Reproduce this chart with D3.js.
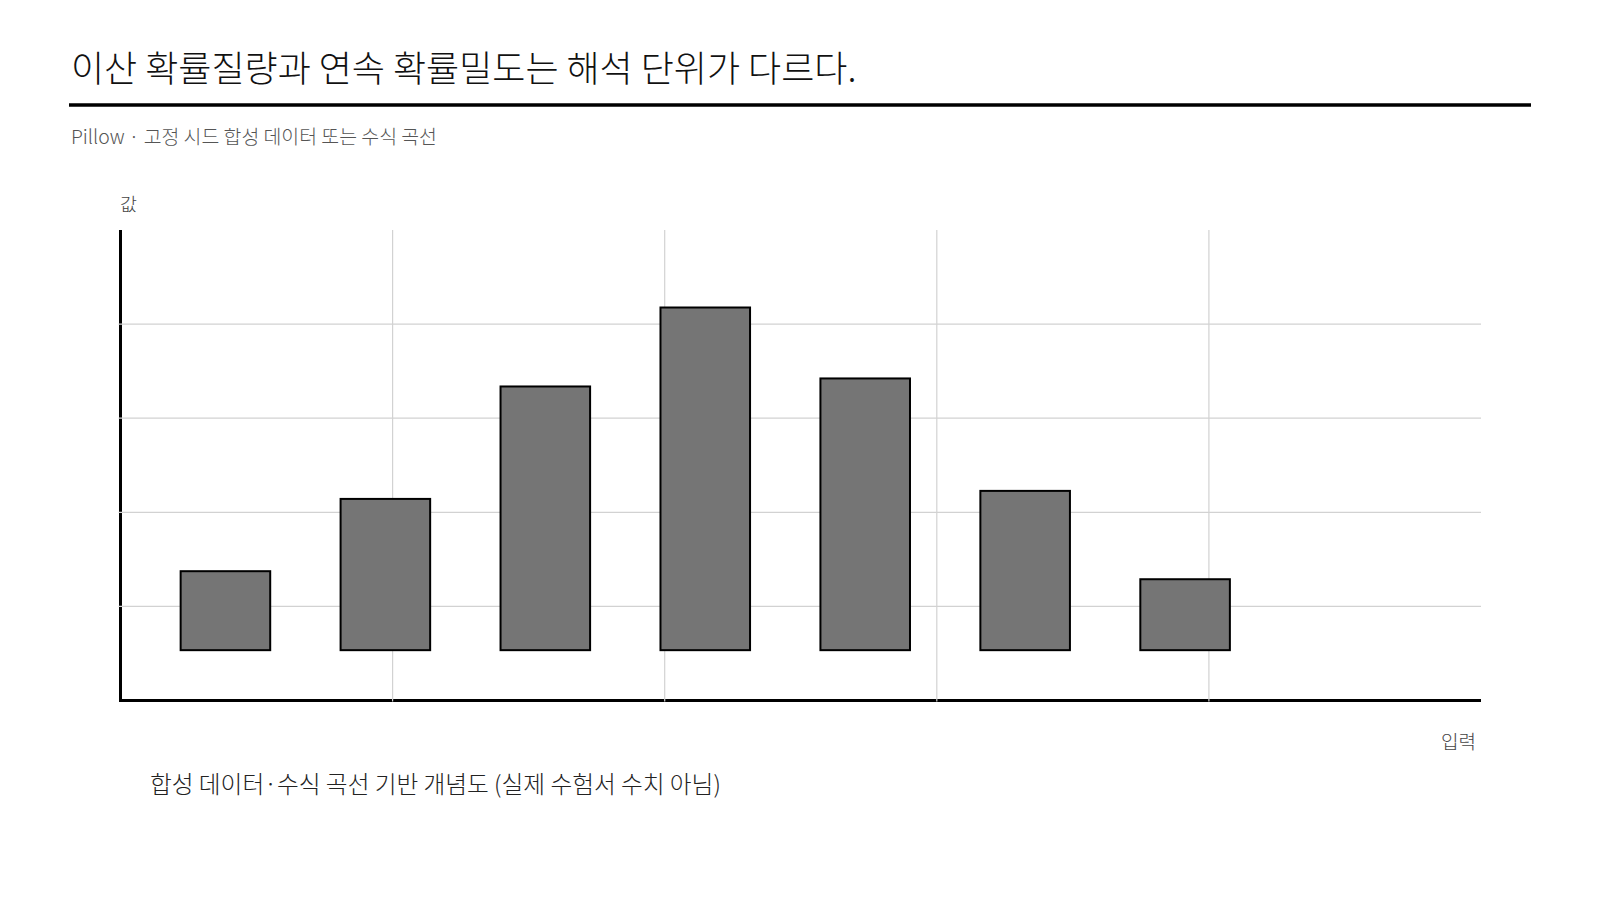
<!DOCTYPE html>
<html>
<head>
<meta charset="utf-8">
<script src="https://cdn.jsdelivr.net/npm/d3@7"></script>
<style>
  html, body { margin: 0; padding: 0; background: #fff; }
  svg text { font-family: "Noto Sans CJK KR", "Noto Sans", sans-serif; }
</style>
</head>
<body>
<svg id="chart" width="1600" height="900"></svg>
<script>
// chart text
var title = '이산 확률질량과 연속 확률밀도는 해석 단위가 다르다.';
var subtitle = 'Pillow · 고정 시드 합성 데이터 또는 수식 곡선';
var caption = '합성 데이터·수식 곡선 기반 개념도 (실제 수험서 수치 아님)';
var yLabel = '값';
var xLabel = '입력';

// discrete outcomes and their probability mass
var outcomes = [0, 1, 2, 3, 4, 5, 6];
var mass = [0.059, 0.113, 0.197, 0.256, 0.203, 0.119, 0.053];

// unlabelled grid divisions
var gridTicks = [1, 2, 3, 4];

var svg = d3.select('#chart');

var plot = { left: 120.5, right: 1481, top: 230, bottom: 700.5 };

// grid frame scales
var gx = d3.scaleLinear().domain([0, 5]).range([plot.left, plot.right]);
var gy = d3.scaleLinear().domain([0, 5]).range([plot.bottom, plot.top]);

// data scales
var x = d3.scaleLinear().domain([-0.656, 7.85]).range([plot.left, plot.right]);
var y = d3.scaleLinear().domain([-0.0376, 0.3139]).range([plot.bottom, plot.top]);
var barW = 0.56;

// header
svg.append('text')
    .attr('x', 71)
    .attr('y', 82)
    .attr('font-size', 36)
    .attr('font-weight', 200)
    .attr('fill', '#111')
    .text(title);

svg.append('line')
    .attr('x1', 69).attr('x2', 1531)
    .attr('y1', 105).attr('y2', 105)
    .attr('stroke', '#000')
    .attr('stroke-width', 3.5);

svg.append('text')
    .attr('x', 71)
    .attr('y', 144)
    .attr('font-size', 19.4)
    .attr('font-weight', 200)
    .attr('fill', '#555')
    .text(subtitle);

// grid
var grid = svg.append('g').classed('grid', true);

grid.selectAll('line.h')
    .data(gridTicks)
    .enter()
    .append('line')
    .classed('h', true)
    .attr('x1', plot.left - 2)
    .attr('x2', plot.right)
    .attr('y1', function (d) { return gy(d); })
    .attr('y2', function (d) { return gy(d); });

grid.selectAll('line.v')
    .data(gridTicks)
    .enter()
    .append('line')
    .classed('v', true)
    .attr('x1', function (d) { return gx(d); })
    .attr('x2', function (d) { return gx(d); })
    .attr('y1', plot.top)
    .attr('y2', plot.bottom + 1);

grid.selectAll('line')
    .attr('stroke', '#d2d2d2')
    .attr('stroke-width', 1.2);

// axes
svg.append('line')
    .attr('x1', plot.left).attr('x2', plot.left)
    .attr('y1', plot.top).attr('y2', plot.bottom + 1.5)
    .attr('stroke', '#000')
    .attr('stroke-width', 3);

svg.append('line')
    .attr('x1', plot.left - 1.5).attr('x2', plot.right)
    .attr('y1', plot.bottom).attr('y2', plot.bottom)
    .attr('stroke', '#000')
    .attr('stroke-width', 3);

// vertical grid marks show through the x axis
grid.raise();

// bars
svg.append('g')
    .classed('bars', true)
    .selectAll('rect')
    .data(outcomes)
    .enter()
    .append('rect')
    .attr('x', function (d) { return x(d - barW / 2); })
    .attr('width', function () { return x(barW) - x(0); })
    .attr('y', function (d, i) { return y(mass[i]); })
    .attr('height', function (d, i) { return y(0) - y(mass[i]); })
    .attr('fill', '#757575')
    .attr('stroke', '#000')
    .attr('stroke-width', 2);

// axis labels
svg.append('text')
    .attr('x', 120)
    .attr('y', 211)
    .attr('font-size', 18.5)
    .attr('font-weight', 200)
    .attr('fill', '#444')
    .text(yLabel);

svg.append('text')
    .attr('x', 1476)
    .attr('y', 749)
    .attr('text-anchor', 'end')
    .attr('font-size', 19)
    .attr('font-weight', 200)
    .attr('fill', '#444')
    .text(xLabel);

// footnote
svg.append('text')
    .attr('x', 150)
    .attr('y', 793)
    .attr('font-size', 23.7)
    .attr('font-weight', 200)
    .attr('fill', '#222')
    .text(caption);
</script>
</body>
</html>
